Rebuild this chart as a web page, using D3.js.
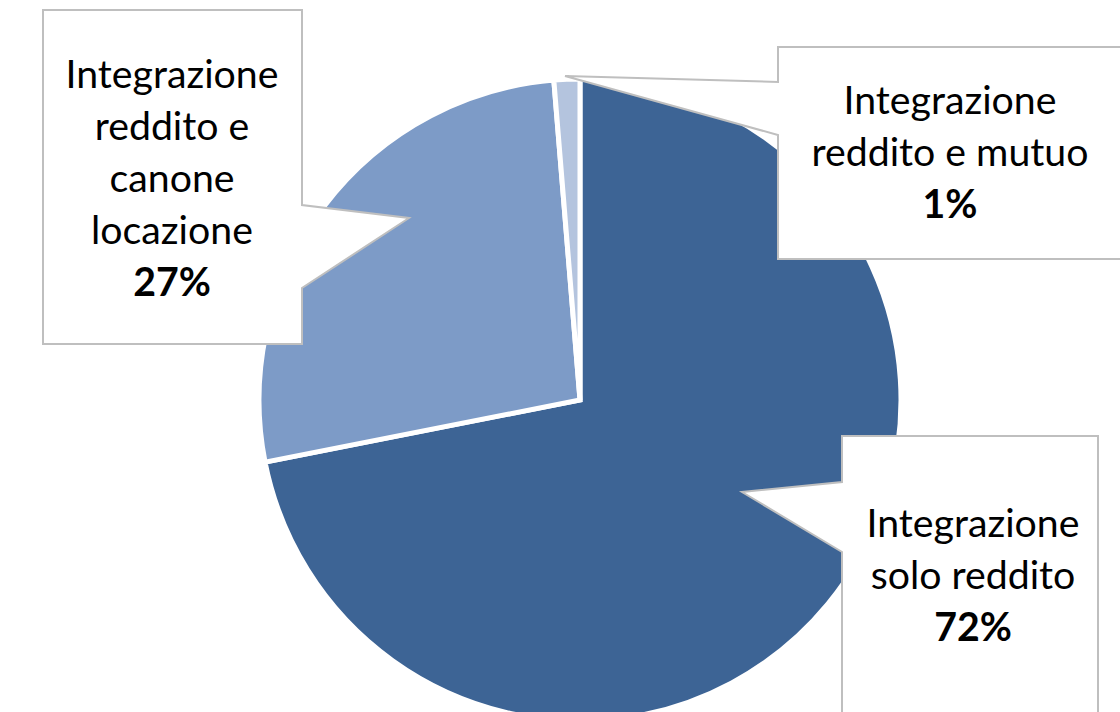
<!DOCTYPE html>
<html>
<head>
<meta charset="utf-8">
<script src="https://cdn.jsdelivr.net/npm/d3@7"></script>
<style>
  html, body { margin: 0; padding: 0; background: #ffffff; }
  svg { display: block; }
</style>
</head>
<body>
<svg id="chart" width="1120" height="712"></svg>
<script>
// ---- data ----
const categories = ["Integrazione solo reddito", "Integrazione reddito e canone locazione", "Integrazione reddito e mutuo"];
const values = [71.9, 26.8, 1.3];
const labelLines = [
  ["Integrazione", "solo reddito"],
  ["Integrazione", "reddito e", "canone", "locazione"],
  ["Integrazione", "reddito e mutuo"]
];
const colors = ["#3D6495", "#7D9BC7", "#B4C4DE"];

// ---- layout ----
const W = 1120, H = 712;
const cx = 580, cy = 400, R = 321;
const FONT = "Lato, 'Open Sans', 'Liberation Sans', sans-serif";

// callout boxes: rect + pointer (side, p1, tip, p2) + text center/baseline
const callouts = [
  { x0: 842, y0: 436, x1: 1098, y1: 722, side: "left", pa: 482, pb: 552, tip: [742, 492], tx: 973, ty: 537 },
  { x0: 43,  y0: 10,  x1: 302,  y1: 344, side: "right", pa: 205, pb: 288, tip: [409, 218], tx: 172, ty: 88 },
  { x0: 778, y0: 47,  x1: 1130, y1: 259, side: "left", pa: 82,  pb: 135, tip: [565, 76], tx: 950, ty: 114 }
];
const lineH = 52;

const svg = d3.select("#chart");

const pie = d3.pie().sort(null).value(d => d).startAngle(0).endAngle(2 * Math.PI);
const arc = d3.arc().innerRadius(0).outerRadius(R);
const arcs = pie(values);

svg.append("g")
  .attr("transform", `translate(${cx},${cy})`)
  .selectAll("path")
  .data(arcs)
  .join("path")
  .attr("d", arc)
  .attr("fill", (d, i) => colors[i])
  .attr("stroke", "#ffffff")
  .attr("stroke-width", 5)
  .attr("stroke-linejoin", "miter");

// measure font size so "Integrazione" is ~213px wide
const probe = svg.append("text").attr("font-family", FONT).attr("font-size", 40).text("Integrazione");
const w40 = probe.node().getComputedTextLength();
probe.remove();
const fs = 40 * 213 / w40;

function calloutPath(c) {
  const [tx, ty] = c.tip;
  if (c.side === "left") {
    return `M${c.x0},${c.y0} L${c.x1},${c.y0} L${c.x1},${c.y1} L${c.x0},${c.y1} L${c.x0},${c.pb} L${tx},${ty} L${c.x0},${c.pa} Z`;
  } else {
    return `M${c.x0},${c.y0} L${c.x1},${c.y0} L${c.x1},${c.pa} L${tx},${ty} L${c.x1},${c.pb} L${c.x1},${c.y1} L${c.x0},${c.y1} Z`;
  }
}

const g = svg.append("g");
callouts.forEach((c, i) => {
  g.append("path")
    .attr("d", calloutPath(c))
    .attr("fill", "#ffffff")
    .attr("stroke", "#BFBFBF")
    .attr("stroke-width", 2)
    .attr("stroke-linejoin", "miter");
  const t = g.append("text")
    .attr("font-family", FONT)
    .attr("font-size", fs)
    .attr("fill", "#000000")
    .attr("text-anchor", "middle");
  const lines = labelLines[i];
  lines.forEach((ln, k) => {
    t.append("tspan").attr("x", c.tx).attr("y", c.ty + k * lineH).text(ln);
  });
  t.append("tspan")
    .attr("x", c.tx)
    .attr("y", c.ty + lines.length * lineH)
    .attr("font-weight", "bold")
    .text(Math.round(values[i]) + "%");
});
</script>
</body>
</html>
